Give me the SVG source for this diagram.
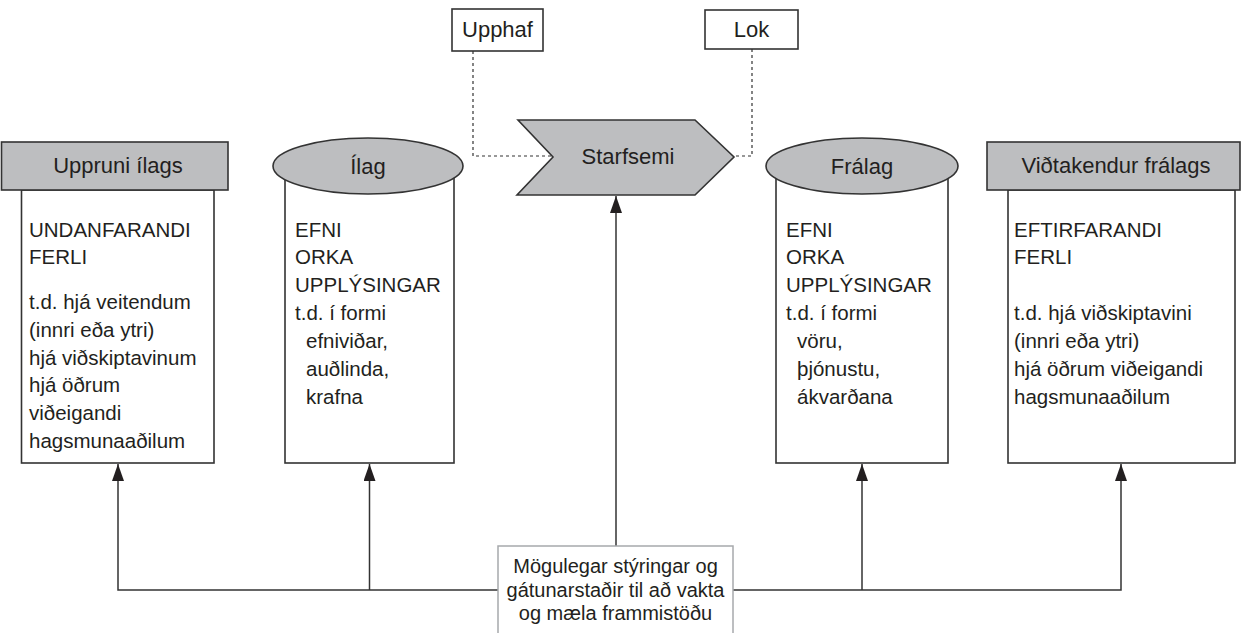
<svg xmlns="http://www.w3.org/2000/svg" width="1242" height="633" viewBox="0 0 1242 633">
<style>
  .t { font-family: "Liberation Sans", Arial, sans-serif; font-size: 20.5px; fill: #231f20; }
  .h { font-family: "Liberation Sans", Arial, sans-serif; font-size: 22px; fill: #231f20; text-anchor: middle; }
  .s { font-family: "Liberation Sans", Arial, sans-serif; font-size: 20px; fill: #231f20; text-anchor: middle; }
  .shape { stroke: #333; stroke-width: 1.6; }
  .grey { fill: #bdbec0; }
  .white { fill: #fff; }
  .line { stroke: #333; stroke-width: 1.5; fill: none; }
  .dash { stroke: #333; stroke-width: 1.2; fill: none; stroke-dasharray: 3 3; }
</style>
<defs>
  <marker id="arr" viewBox="0 0 17 12" refX="17" refY="6" markerWidth="17" markerHeight="12" markerUnits="userSpaceOnUse" orient="auto">
    <path d="M0,0 L17,6 L0,12 z" fill="#231f20"/>
  </marker>
</defs>
<rect width="1242" height="633" fill="#fff"/>

<g id="connectors">
  <path class="dash" d="M473,51 V156 H553"/>
  <path class="dash" d="M752,49 V156 H734"/>
  <path class="line" d="M498,590 H118 V464" marker-end="url(#arr)"/>
  <path class="line" d="M369.5,590 V464" marker-end="url(#arr)"/>
  <path class="line" d="M733,590 H1121 V464" marker-end="url(#arr)"/>
  <path class="line" d="M862,590 V464" marker-end="url(#arr)"/>
  <path class="line" d="M616,546 V196" marker-end="url(#arr)"/>
</g>

<g id="upphaf">
  <rect class="shape white" x="452" y="9" width="91" height="42"/>
  <text class="h" x="497.5" y="37">Upphaf</text>
</g>
<g id="lok">
  <rect class="shape white" x="705" y="10" width="93" height="39"/>
  <text class="h" x="751.5" y="37">Lok</text>
</g>

<g id="starfsemi">
  <polygon class="shape grey" points="518,120 695,120 734,157 695,195 517,195 553,157"/>
  <text class="h" x="628" y="164">Starfsemi</text>
</g>

<g id="uppruni">
  <rect class="shape white" x="21.5" y="190" width="192.5" height="273"/>
  <rect class="shape grey" x="1.5" y="142" width="226.5" height="48"/>
  <text class="h" x="118" y="173">Uppruni ílags</text>
  <text class="t" x="29" y="237">UNDANFARANDI</text>
  <text class="t" x="29" y="264">FERLI</text>
  <text class="t" x="29" y="309">t.d. hjá veitendum</text>
  <text class="t" x="29" y="337">(innri eða ytri)</text>
  <text class="t" x="29" y="365">hjá viðskiptavinum</text>
  <text class="t" x="29" y="392">hjá öðrum</text>
  <text class="t" x="29" y="420">viðeigandi</text>
  <text class="t" x="29" y="448">hagsmunaaðilum</text>
</g>

<g id="ilag">
  <rect class="shape white" x="285" y="166" width="169" height="297"/>
  <ellipse class="shape grey" cx="368" cy="166" rx="95" ry="28"/>
  <text class="h" x="368" y="174">Ílag</text>
  <text class="t" x="295" y="237">EFNI</text>
  <text class="t" x="295" y="264">ORKA</text>
  <text class="t" x="295" y="292">UPPLÝSINGAR</text>
  <text class="t" x="295" y="320">t.d. í formi</text>
  <text class="t" x="306" y="348">efniviðar,</text>
  <text class="t" x="306" y="376">auðlinda,</text>
  <text class="t" x="306" y="404">krafna</text>
</g>

<g id="fralag">
  <rect class="shape white" x="776" y="166" width="172" height="297"/>
  <ellipse class="shape grey" cx="862" cy="166" rx="96" ry="28"/>
  <text class="h" x="862" y="174">Frálag</text>
  <text class="t" x="786" y="237">EFNI</text>
  <text class="t" x="786" y="264">ORKA</text>
  <text class="t" x="786" y="292">UPPLÝSINGAR</text>
  <text class="t" x="786" y="320">t.d. í formi</text>
  <text class="t" x="797" y="348">vöru,</text>
  <text class="t" x="797" y="376">þjónustu,</text>
  <text class="t" x="797" y="404">ákvarðana</text>
</g>

<g id="vidtakendur">
  <rect class="shape white" x="1008" y="190" width="227" height="273"/>
  <rect class="shape grey" x="987" y="142" width="253" height="48"/>
  <text class="h" x="1116" y="173">Viðtakendur frálags</text>
  <text class="t" x="1014" y="237">EFTIRFARANDI</text>
  <text class="t" x="1014" y="264">FERLI</text>
  <text class="t" x="1014" y="320">t.d. hjá viðskiptavini</text>
  <text class="t" x="1014" y="348">(innri eða ytri)</text>
  <text class="t" x="1014" y="376">hjá öðrum viðeigandi</text>
  <text class="t" x="1014" y="404">hagsmunaaðilum</text>
</g>

<g id="styringar">
  <rect x="498" y="546" width="235" height="100" fill="#fff" stroke="#a7a9ac" stroke-width="1.5"/>
  <text class="s" x="615.5" y="573">Mögulegar stýringar og</text>
  <text class="s" x="615.5" y="597">gátunarstaðir til að vakta</text>
  <text class="s" x="615.5" y="620">og mæla frammistöðu</text>
</g>
</svg>
